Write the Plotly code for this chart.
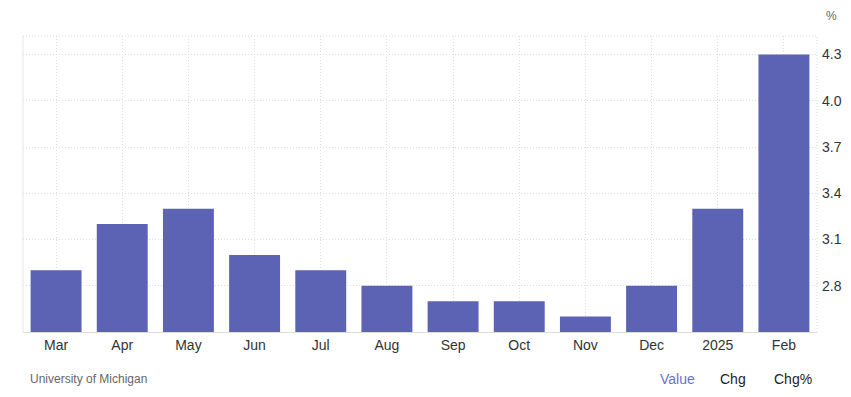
import plotly.graph_objects as go

categories = ["Mar", "Apr", "May", "Jun", "Jul", "Aug", "Sep", "Oct", "Nov", "Dec", "2025", "Feb"]
values = [2.9, 3.2, 3.3, 3.0, 2.9, 2.8, 2.7, 2.7, 2.6, 2.8, 3.3, 4.3]
y_ticks = [2.8, 3.1, 3.4, 3.7, 4.0, 4.3]
y_tick_labels = ["2.8", "3.1", "3.4", "3.7", "4.0", "4.3"]

FONT = "Liberation Sans, Arial, Helvetica, sans-serif"
GRID = "#dedede"

fig = go.Figure(go.Bar(
    x=categories, y=values,
    marker=dict(color="#5D63B4", line=dict(width=0)),
    hoverinfo="x+y",
))

fig.update_layout(
    width=851, height=397,
    margin=dict(l=23, r=34, t=36, b=65, autoexpand=False),
    paper_bgcolor="white", plot_bgcolor="white",
    bargap=0.23,
    showlegend=False,
    font=dict(family=FONT, size=14, color="#333333"),
    xaxis=dict(
        type="category",
        showgrid=True, gridcolor=GRID, griddash="1px,2px", gridwidth=1,
        showline=True, linecolor="#dcdcdc", linewidth=1,
        ticks="", tickfont=dict(size=14, color="#333333"),
        ticklabelstandoff=0, automargin=False,
        fixedrange=True,
    ),
    yaxis=dict(
        side="right",
        range=[2.5, 4.42],
        tickvals=y_ticks, ticktext=y_tick_labels,
        showgrid=True, gridcolor=GRID, griddash="1px,2px", gridwidth=1,
        zeroline=False, showline=False,
        ticks="", tickfont=dict(size=14, color="#333333"),
        ticklabelstandoff=4, automargin=False,
        fixedrange=True,
    ),
    shapes=[
        dict(type="line", xref="paper", yref="paper", x0=0, x1=0, y0=0, y1=1,
             line=dict(color="#e6e6e6", width=1)),
        dict(type="line", xref="paper", yref="paper", x0=1, x1=1, y0=0, y1=1,
             line=dict(color=GRID, width=1, dash="1px,2px")),
        dict(type="line", xref="paper", yref="paper", x0=0, x1=1, y0=1, y1=1,
             line=dict(color=GRID, width=1, dash="1px,2px")),
    ],
    annotations=[
        dict(text="%", xref="paper", yref="paper", x=1.0, xshift=14, y=1.0, yshift=20,
             xanchor="center", yanchor="middle", showarrow=False,
             font=dict(size=12, color="#666666")),
        dict(text="University of Michigan", xref="paper", yref="paper", x=0, xshift=5,
             y=0, yshift=-47, xanchor="left", yanchor="middle", showarrow=False,
             font=dict(size=12, color="#666666")),
        dict(text="Value", xref="paper", yref="paper", x=0, xshift=654,
             y=0, yshift=-47, xanchor="center", yanchor="middle", showarrow=False,
             font=dict(size=14, color="#6B72C9")),
        dict(text="Chg", xref="paper", yref="paper", x=0, xshift=710,
             y=0, yshift=-47, xanchor="center", yanchor="middle", showarrow=False,
             font=dict(size=14, color="#222222")),
        dict(text="Chg%", xref="paper", yref="paper", x=0, xshift=770,
             y=0, yshift=-47, xanchor="center", yanchor="middle", showarrow=False,
             font=dict(size=14, color="#222222")),
    ],
)

fig.write_html("out.html", config={"displayModeBar": False})
